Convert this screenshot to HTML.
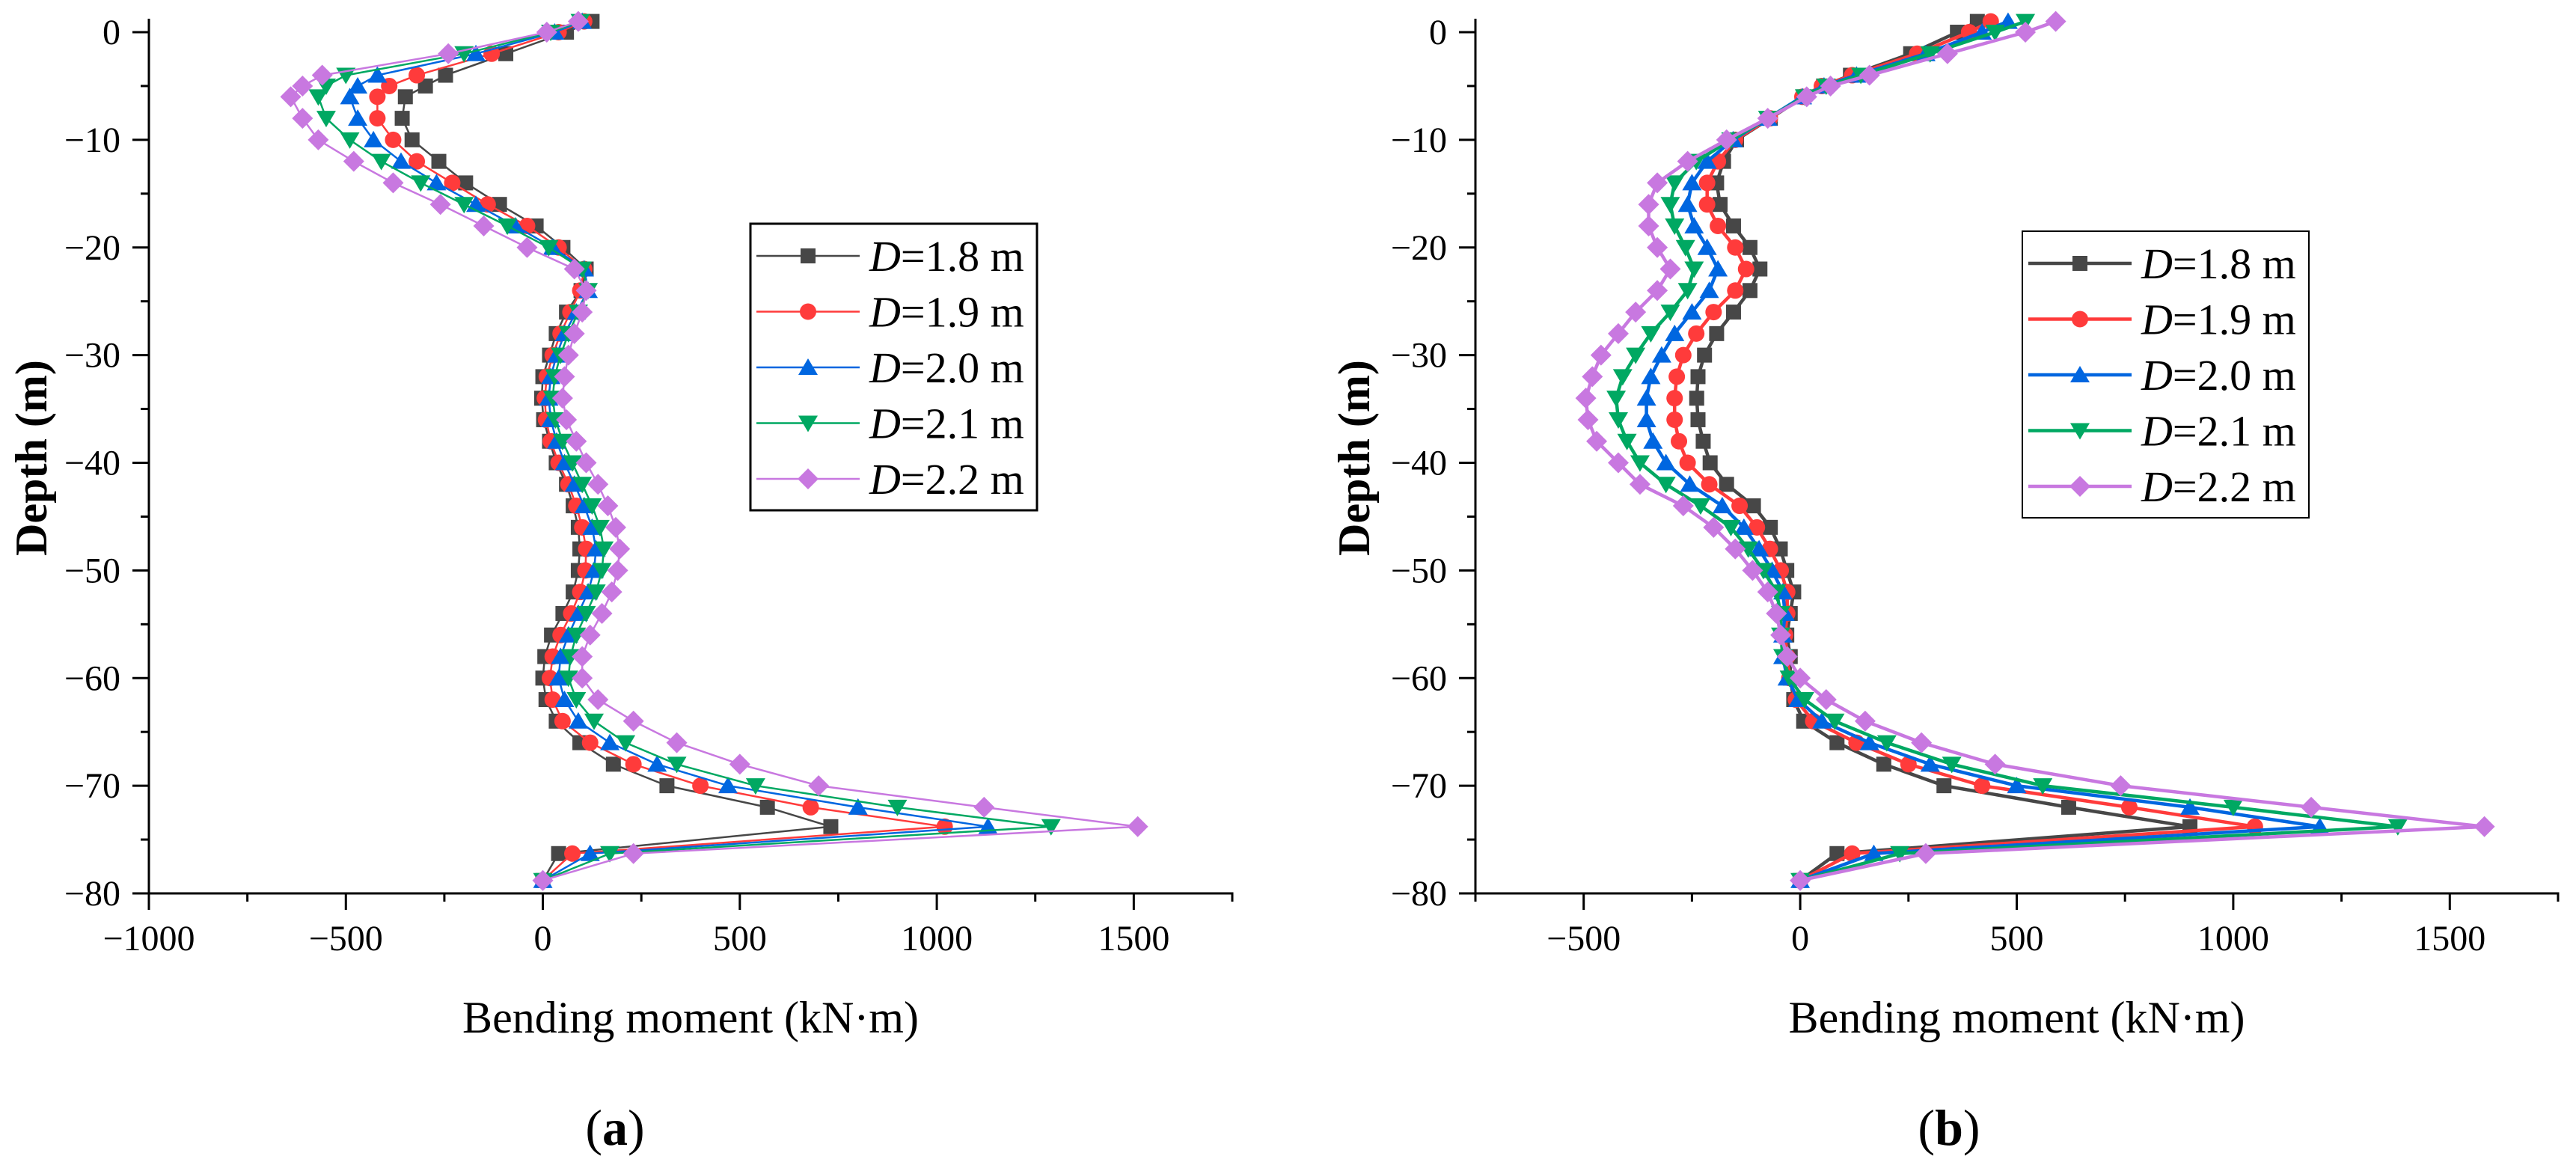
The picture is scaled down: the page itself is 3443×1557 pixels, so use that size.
<!DOCTYPE html>
<html><head><meta charset="utf-8"><title>Bending moment vs depth</title>
<style>
html,body{margin:0;padding:0;background:#fff;}
svg{display:block;font-family:"Liberation Serif","Times New Roman",serif;}
svg text{font-family:"Liberation Serif","Times New Roman",serif;}
</style></head>
<body>
<svg id="chart" width="3443" height="1557" viewBox="0 0 3443 1557" xmlns="http://www.w3.org/2000/svg" font-family="Liberation Serif, serif"></svg>
<script>
const depths = [1,0,-2,-4,-5,-6,-8,-10,-12,-14,-16,-18,-20,-22,-24,-26,-28,-30,-32,-34,-36,-38,-40,-42,-44,-46,-48,-50,-52,-54,-56,-58,-60,-62,-64,-66,-68,-70,-72,-73.8,-76.3,-78.8];
const seriesLabels = ["1.8","1.9","2.0","2.1","2.2"];
const seriesColors = ["#474747","#ff3b3b","#0066e0","#00a862","#c878e0"];
const markerKinds = ["square","circle","triangle","invtriangle","diamond"];

const a18 = [125,60,-94,-247,-298,-349,-357,-332,-264,-196,-110,-17,51,110,97,60,34,17,0,-3,2,17,34,60,77,90,94,90,77,51,22,5,0,8,34,94,179,315,570,731,40,0];
const a19 = [105,40,-130,-320,-390,-420,-420,-380,-320,-230,-140,-40,40,105,95,70,45,25,10,5,8,20,40,65,85,100,110,108,95,72,45,25,18,25,50,120,230,400,680,1020,75,0];
const a20 = [100,30,-170,-420,-470,-490,-470,-430,-360,-270,-170,-70,25,105,115,85,55,35,20,15,20,35,55,80,105,125,135,130,115,90,65,45,40,55,90,170,290,470,800,1130,120,0];
const a21 = [95,20,-200,-500,-550,-570,-550,-490,-410,-310,-200,-90,15,100,115,90,65,45,30,25,32,50,75,100,125,145,155,150,135,110,85,70,65,85,130,210,340,540,900,1290,170,0];
const a22 = [90,10,-240,-560,-610,-640,-610,-570,-480,-380,-260,-150,-40,80,110,100,80,65,55,50,60,85,110,140,165,185,195,190,175,150,120,100,100,140,230,340,500,700,1120,1510,230,0];

const b18 = [409,363,255,116,54,8,-69,-147,-177,-193,-185,-154,-116,-93,-116,-154,-193,-221,-236,-239,-236,-224,-208,-170,-108,-69,-46,-31,-15,-23,-31,-23,-23,-15,8,85,193,332,620,900,85,0];
const b19 = [440,390,270,120,50,5,-70,-150,-190,-215,-215,-190,-150,-125,-150,-200,-240,-270,-285,-290,-290,-280,-260,-210,-140,-100,-70,-45,-30,-30,-35,-30,-25,-10,30,130,250,420,760,1050,120,0];
const b20 = [480,420,290,130,55,5,-75,-155,-215,-250,-260,-245,-215,-190,-210,-250,-290,-320,-345,-355,-355,-340,-310,-255,-180,-130,-95,-65,-40,-35,-40,-40,-30,-5,50,160,300,500,900,1200,170,0];
const b21 = [520,450,300,140,60,10,-75,-160,-240,-290,-300,-290,-265,-245,-260,-300,-345,-380,-410,-425,-420,-400,-370,-310,-230,-160,-120,-85,-55,-45,-45,-40,-25,10,80,200,350,560,1000,1380,230,0];
const b22 = [590,520,340,160,70,15,-75,-170,-260,-330,-350,-350,-330,-300,-330,-380,-420,-460,-480,-495,-490,-470,-420,-370,-270,-200,-150,-110,-75,-55,-45,-30,0,60,150,280,450,740,1180,1580,290,0];

const yTicks = [0,-10,-20,-30,-40,-50,-60,-70,-80];
const xTicksA = [-1000,-500,0,500,1000,1500];
const xTicksB = [-500,0,500,1000,1500];

const NS = "http://www.w3.org/2000/svg";
const FONT = '"Liberation Serif", "Times New Roman", serif';
const svg = document.getElementById("chart");
function mk(tag, attrs, parent){
  const e = document.createElementNS(NS, tag);
  for (const k in attrs) e.setAttribute(k, attrs[k]);
  if (tag === "text") e.style.fontFamily = FONT;
  (parent||svg).appendChild(e);
  return e;
}
function fmt(v){ return v < 0 ? "\u2212" + Math.abs(v) : String(v); }

function marker(g, kind, cx, cy, color, s){
  let m;
  if (kind === "square") m = mk("rect",{x:cx-s/2,y:cy-s/2,width:s,height:s,fill:color},g);
  else if (kind === "circle") m = mk("circle",{cx:cx,cy:cy,r:s/2+1,fill:color},g);
  else if (kind === "triangle") m = mk("polygon",{points:`${cx},${cy-s*0.6} ${cx-s*0.65},${cy+s*0.5} ${cx+s*0.65},${cy+s*0.5}`,fill:color},g);
  else if (kind === "invtriangle") m = mk("polygon",{points:`${cx},${cy+s*0.6} ${cx-s*0.65},${cy-s*0.5} ${cx+s*0.65},${cy-s*0.5}`,fill:color},g);
  else m = mk("polygon",{points:`${cx},${cy-s*0.7} ${cx+s*0.7},${cy} ${cx},${cy+s*0.7} ${cx-s*0.7},${cy}`,fill:color},g);
  return m;
}

function panel(cfg){
  const g = mk("g",{});
  
  
  const xs = v => cfg.x0 + (v - cfg.xmin) / (cfg.xmax - cfg.xmin) * (cfg.x1 - cfg.x0);
  const ys = d => cfg.y0 + (-d) / 80 * (cfg.y1 - cfg.y0);

  cfg.series.forEach((vals, si) => {
    const sg = mk("g",{},g);
    
    
    const pts = vals.map((v,i) => xs(v).toFixed(1) + "," + ys(depths[i]).toFixed(1)).join(" ");
    mk("polyline",{points:pts,fill:"none",stroke:seriesColors[si],"stroke-width":cfg.lw,"stroke-linejoin":"round"},sg);
    vals.forEach((v,i) => {
      const m = marker(sg, markerKinds[si], xs(v), ys(depths[i]), seriesColors[si], 20);
      
      
    });
  });

  const ax = mk("g",{stroke:"#000","stroke-width":3,fill:"none"},g);
  
  
  mk("line",{x1:cfg.x0,y1:cfg.ytop,x2:cfg.x0,y2:cfg.y1+1.5},ax);
  mk("line",{x1:cfg.x0-22,y1:cfg.y1,x2:cfg.x1+1.5,y2:cfg.y1},ax);
  for (let d = 0; d >= -80; d -= 5){
    const major = d % 10 === 0;
    mk("line",{x1:cfg.x0-(major?22:11),y1:ys(d),x2:cfg.x0,y2:ys(d)},ax);
  }
  yTicks.forEach(d => {
    const t = mk("text",{x:cfg.x0-38,y:ys(d)+16,"text-anchor":"end","font-size":48,fill:"#000"},g);
    t.textContent = fmt(d);
    
    
  });
  for (let v = cfg.xmin; v <= cfg.xmax; v += 250){
    const major = v % 500 === 0;
    mk("line",{x1:xs(v),y1:cfg.y1,x2:xs(v),y2:cfg.y1+(major?22:11)},ax);
  }
  cfg.xticks.forEach(v => {
    const t = mk("text",{x:xs(v),y:cfg.y1+76,"text-anchor":"middle","font-size":48,fill:"#000"},g);
    t.textContent = fmt(v);
    
    
  });

  const xt = mk("text",{x:(cfg.x0+cfg.x1)/2,y:1380,"text-anchor":"middle","font-size":60,fill:"#000"},g);
  xt.textContent = "Bending moment (kN\u00B7m)";
  
  
  const yt = mk("text",{x:0,y:0,"text-anchor":"middle","font-size":60,"font-weight":"bold",fill:"#000",transform:`translate(${cfg.ytx},612) rotate(-90)`},g);
  yt.textContent = "Depth (m)";
  
  
  const pl = mk("text",{x:cfg.plx,y:1530,"text-anchor":"middle","font-size":68,fill:"#000"},g);
  pl.innerHTML = '(<tspan font-weight="bold">' + cfg.tag + '</tspan>)';
  
  

  const lg = mk("g",{},g);
  
  
  mk("rect",{x:cfg.lx,y:cfg.ly,width:383,height:383,fill:"#fff",stroke:"#000","stroke-width":cfg.tag==="a"?3:2},lg);
  seriesLabels.forEach((lab, si) => {
    const ry = cfg.ly + 43 + si*74.5;
    const e = mk("g",{},lg);
    
    
    mk("line",{x1:cfg.lx+8,y1:ry,x2:cfg.lx+146,y2:ry,stroke:seriesColors[si],"stroke-width":cfg.lw},e);
    marker(e, markerKinds[si], cfg.lx+77, ry, seriesColors[si], 20);
    const t = mk("text",{x:cfg.lx+159,y:ry+20,"font-size":58,fill:"#000"},e);
    t.innerHTML = '<tspan font-style="italic">D</tspan>=' + lab + ' m';
  });
}

panel({name:"panel-a", tag:"a", x0:199, x1:1647, xmin:-1000, xmax:1750, y0:43, y1:1194, ytop:25,
  series:[a18,a19,a20,a21,a22], xticks:xTicksA, lw:2.5, ytx:62, plx:822, lx:1003, ly:299});
panel({name:"panel-b", tag:"b", x0:1972, x1:3419, xmin:-750, xmax:1750, y0:43, y1:1194, ytop:25,
  series:[b18,b19,b20,b21,b22], xticks:xTicksB, lw:4.5, ytx:1830, plx:2605, lx:2703, ly:309});
</script>
</body></html>
